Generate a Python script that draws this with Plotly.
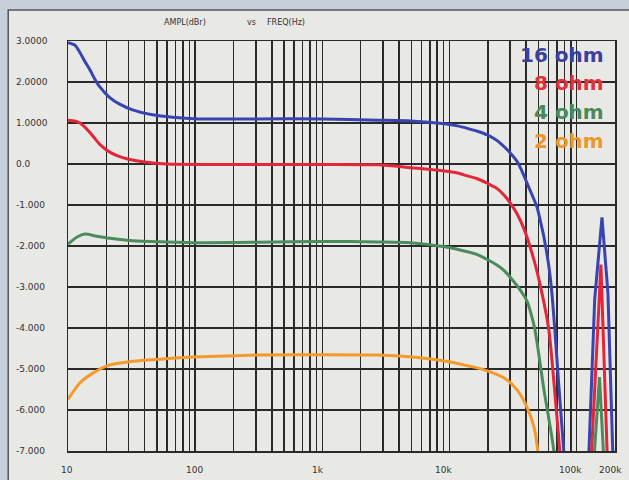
import math
import plotly.graph_objects as go

# ---------------- data ----------------
series_names = ["16 ohm", "8 ohm", "4 ohm", "2 ohm"]
series_colors = ["#3a44b0", "#e3263a", "#4a8c5c", "#f39a2b"]
label_colors = ["#3d3f9e", "#e3303a", "#4a8a5a", "#f0952a"]

# main pass-band curves (Hz, dBr)
f_16 = [10, 11.34, 12.41, 13.58, 14.86, 16.26, 17.79, 21.29, 25.47, 32.2, 46.1, 66.2, 107,
        300, 1000, 2738, 4955, 9140, 11550, 13800, 16540, 19800, 23700, 26900, 30000,
        34000, 37200, 40600, 44500, 48700, 52300, 55200, 60400, 63800, 67300, 72300,
        79100, 86600]
a_16 = [2.96, 2.90, 2.72, 2.50, 2.30, 2.07, 1.88, 1.62, 1.46, 1.32, 1.20, 1.14, 1.10,
        1.10, 1.10, 1.07, 1.05, 0.98, 0.93, 0.87, 0.80, 0.71, 0.57, 0.42, 0.27,
        0.06, -0.18, -0.46, -0.75, -1.05, -1.45, -1.78, -2.50, -3.15, -4.05, -5.40,
        -7.0, -8.6]

f_8 = [10, 11.34, 12.41, 13.58, 14.86, 16.26, 17.79, 21.29, 25.47, 28.9, 41.4, 59.3,
       264, 1000, 2738, 4955, 9140, 11550, 13800, 16540, 19800, 23700, 26900, 30000,
       34000, 38700, 46100, 53300, 60400, 66100, 73600, 80600]
a_8 = [1.07, 1.05, 1.00, 0.90, 0.77, 0.62, 0.48, 0.29, 0.18, 0.13, 0.04, 0.0,
       -0.01, -0.01, -0.02, -0.09, -0.17, -0.22, -0.29, -0.36, -0.47, -0.60, -0.76, -0.95,
       -1.22, -1.60, -2.34, -3.15, -4.05, -5.30, -7.0, -8.6]

f_4 = [10, 10.2, 11.8, 13.6, 16.8, 21.3, 32.2, 59.3, 107, 316, 1000, 2738, 4955,
       9140, 13800, 16500, 19800, 23700, 26900, 30000, 34000, 37200, 40600, 43700,
       47000, 55200, 66100, 72000]
a_4 = [-1.95, -1.93, -1.78, -1.71, -1.76, -1.81, -1.87, -1.90, -1.92, -1.91, -1.89, -1.90, -1.92,
       -2.02, -2.14, -2.21, -2.33, -2.47, -2.60, -2.76, -2.97, -3.14, -3.34, -3.65,
       -4.05, -5.50, -7.0, -8.6]

f_2 = [10, 12.4, 15.7, 21.3, 30.5, 52.4, 94.8, 174.6, 316, 1000, 2738, 5623,
       10200, 13800, 18700, 26900, 34000, 40600, 46100, 49500, 52000]
a_2 = [-5.74, -5.34, -5.10, -4.90, -4.82, -4.76, -4.71, -4.68, -4.66, -4.65, -4.66, -4.72,
       -4.83, -4.92, -5.02, -5.22, -5.51, -5.93, -6.41, -7.02, -8.0]

# ultrasonic resonance spikes (Hz, dBr)
fs_16 = [118000, 124000, 138500, 158000, 176000, 192000, 200000]
as_16 = [-9.0, -7.2, -3.3, -1.3, -3.15, -7.0, -7.6]
fs_8 = [125000, 131000, 155000, 174700, 182000]
as_8 = [-9.0, -7.0, -2.45, -7.0, -9.0]
fs_4 = [133000, 138000, 151000, 162000, 168000]
as_4 = [-9.0, -7.0, -5.2, -7.0, -9.0]

y_ticks = [3, 2, 1, 0, -1, -2, -3, -4, -5, -6, -7]
y_tick_text = ["3.0000", "2.0000", "1.0000", "0.0", "-1.000", "-2.000", "-3.000",
               "-4.000", "-5.000", "-6.000", "-7.000"]

x_grid = [m * d for d in (10, 100, 1000, 10000) for m in range(1, 10)] + [100000, 200000]
x_label_vals = [10, 100, 1000, 10000, 100000, 200000]
x_label_text = ["10", "100", "1k", "10k", "100k", "200k"]
x_label_shift = [-1, -1, -4, -6, -6, -5]

title_parts = ["AMPL(dBr)", "vs", "FREQ(Hz)"]

# ---------------- figure ----------------
W, H = 629, 480
ML, MR, MT, MB = 68, 12, 41, 29
PW, PH = W - ML - MR, H - MT - MB

def px_x(px):
    return (px - ML) / PW

def px_y(py):
    return (H - MB - py) / PH

fig = go.Figure()

mains = [(f_16, a_16), (f_8, a_8), (f_4, a_4), (f_2, a_2)]
for (fx, ay), name, col in zip(mains, series_names, series_colors):
    fig.add_trace(go.Scatter(x=fx, y=ay, mode="lines", name=name,
                             line=dict(color=col, width=3, shape="spline", smoothing=0.7),
                             showlegend=False, hoverinfo="skip"))

spikes = [(fs_16, as_16, series_colors[0]), (fs_8, as_8, series_colors[1]), (fs_4, as_4, series_colors[2])]
for fx, ay, col in spikes:
    fig.add_trace(go.Scatter(x=fx, y=ay, mode="lines",
                             line=dict(color=col, width=3),
                             showlegend=False, hoverinfo="skip"))

panel_bg = "#e8e8e5"
outer_bg = "#c6d0da"
grid_col = "#2a2a2a"

fig.update_layout(
    width=W, height=H,
    margin=dict(l=ML, r=MR, t=MT, b=MB, pad=0),
    paper_bgcolor=outer_bg,
    plot_bgcolor=panel_bg,
    font=dict(family="DejaVu Sans", size=9, color="#333333"),
    showlegend=False,
)

fig.update_xaxes(
    type="log", range=[1, math.log10(200000)],
    tickmode="array", tickvals=x_grid, showticklabels=False,
    showgrid=True, gridcolor=grid_col, gridwidth=1.5,
    showline=True, linecolor=grid_col, linewidth=1.5, mirror=True,
    ticks="", zeroline=False,
)
fig.update_yaxes(
    range=[-7, 3], tickmode="array", tickvals=y_ticks,
    showticklabels=False,
    showgrid=True, gridcolor=grid_col, gridwidth=1.5,
    showline=True, linecolor=grid_col, linewidth=1.5, mirror=True,
    zeroline=False,
)

# outer panel frame (scanned page box)
fig.add_shape(type="rect", xref="paper", yref="paper",
              x0=px_x(8), x1=px_x(W + 20), y0=px_y(H + 20), y1=px_y(10),
              fillcolor=panel_bg, line=dict(color="#555555", width=1.5), layer="below")

annotations = []
# y tick labels, left-aligned as in the original
for v, t in zip(y_ticks, y_tick_text):
    annotations.append(dict(x=px_x(14), xref="paper", y=v, yref="y", text=t,
                            xanchor="left", yanchor="middle", showarrow=False,
                            font=dict(family="DejaVu Sans", size=9, color="#333333")))
# x tick labels
for v, t, s in zip(x_label_vals, x_label_text, x_label_shift):
    annotations.append(dict(x=math.log10(v), xref="x", y=px_y(470), yref="paper", text=t,
                            xanchor="center", yanchor="middle", showarrow=False, xshift=s,
                            font=dict(family="DejaVu Sans", size=9, color="#333333")))
# title pieces
for txt, cx in zip(title_parts, [185, 252, 287]):
    annotations.append(dict(x=px_x(cx), xref="paper", y=px_y(23), yref="paper", text=txt,
                            xanchor="center", yanchor="middle", showarrow=False,
                            font=dict(family="DejaVu Sans", size=8, color="#333333")))
# legend labels
for name, col, cy in zip(series_names, label_colors, [55, 83, 112, 141]):
    annotations.append(dict(x=px_x(608), xref="paper", y=px_y(cy), yref="paper",
                            text="<b>" + name + "</b>", xanchor="right", yanchor="middle",
                            showarrow=False,
                            font=dict(family="DejaVu Sans", size=20, color=col)))
fig.update_layout(annotations=annotations)

fig.write_html("out.html",
               config={"displayModeBar": False, "staticPlot": True},
               post_script="document.body.style.margin='0';document.body.style.overflow='hidden';")
